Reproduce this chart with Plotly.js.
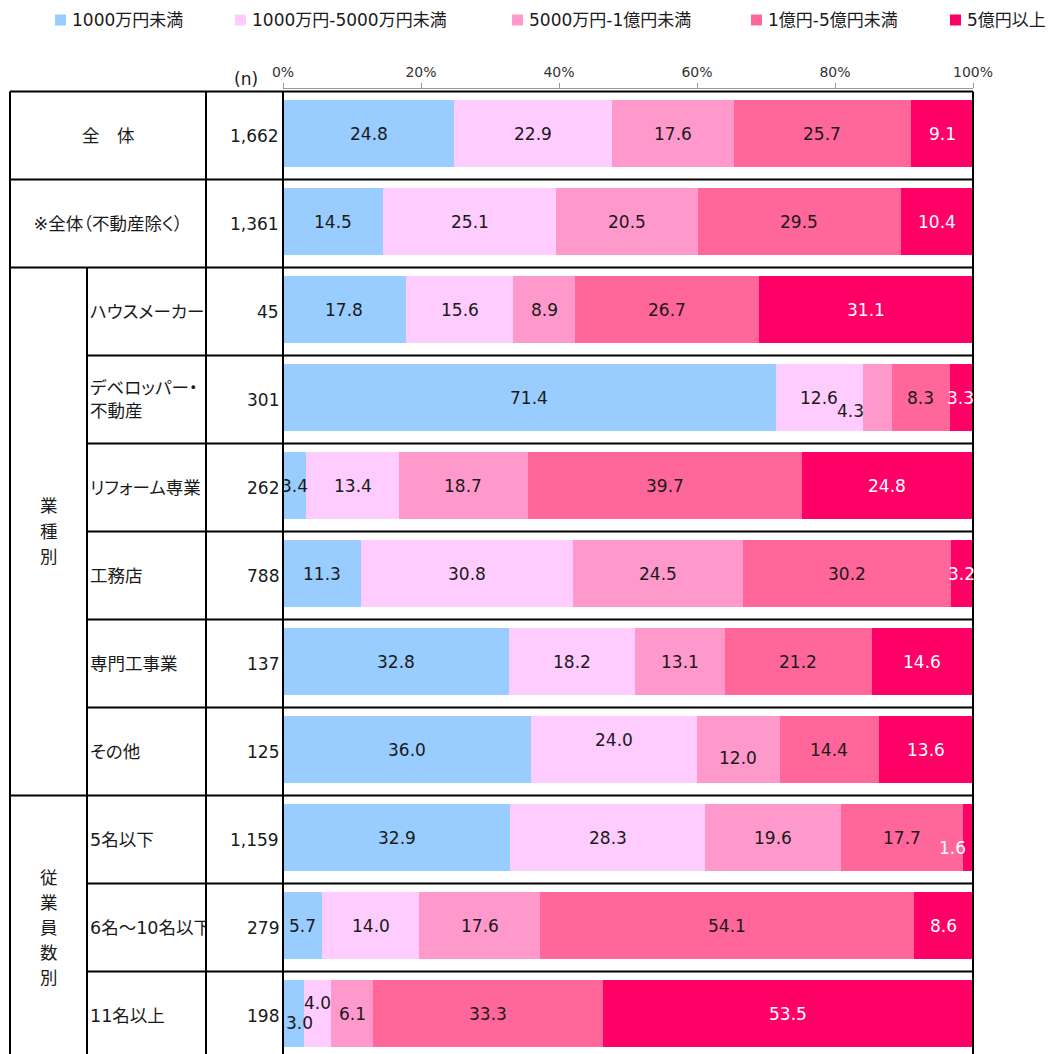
<!DOCTYPE html>
<html>
<head>
<meta charset="utf-8">
<script src="https://cdn.plot.ly/plotly-3.0.1.min.js"></script>
<style>
html,body{margin:0;padding:0;background:#fff}
/* proportional kana/punctuation widths for the Japanese labels */
#chart text{font-feature-settings:"palt" 1}
</style>
</head>
<body>
<div id="chart" style="width:1059px;height:1054px"></div>
<script>
// Revenue band shares (%) by respondent segment
const seriesNames = ['1000万円未満', '1000万円-5000万円未満', '5000万円-1億円未満', '1億円-5億円未満', '5億円以上'];
const seriesColors = ['#99CCFF', '#FFCCFF', '#FF99CC', '#FF6699', '#FF0066'];
const labelColors = ['#1a1a1a', '#1a1a1a', '#1a1a1a', '#1a1a1a', '#ffffff'];

const rowLabels = ['全　体', '※全体（不動産除く）', 'ハウスメーカー', 'デベロッパー・<br>不動産', 'リフォーム専業',
  '工務店', '専門工事業', 'その他', '5名以下', '6名～10名以下', '11名以上'];
const sampleSizes = [1662, 1361, 45, 301, 262, 788, 137, 125, 1159, 279, 198];

const under10m = [24.8, 14.5, 17.8, 71.4, 3.4, 11.3, 32.8, 36.0, 32.9, 5.7, 3.0];
const m10to50 = [22.9, 25.1, 15.6, 12.6, 13.4, 30.8, 18.2, 24.0, 28.3, 14.0, 4.0];
const m50to100 = [17.6, 20.5, 8.9, 4.3, 18.7, 24.5, 13.1, 12.0, 19.6, 17.6, 6.1];
const b1to5 = [25.7, 29.5, 26.7, 8.3, 39.7, 30.2, 21.2, 14.4, 17.7, 54.1, 33.3];
const b5plus = [9.1, 10.4, 31.1, 3.3, 24.8, 3.2, 14.6, 13.6, 1.6, 8.6, 53.5];

const groupNames = ['業種別', '従業員数別'];
const groupFirstRow = [2, 8];
const groupLastRow = [7, 10];
const axisTicks = [0, 20, 40, 60, 80, 100];

const series = [under10m, m10to50, m50to100, b1to5, b5plus];

// ---- page geometry (px) ----
const W = 1059, H = 1054;
const plotL = 283, plotR = 973, plotT = 88;
const rowTop = 91.5, rowH = 88;
const tableL = 10, groupColR = 87, labelColR = 206;
const nRows = rowLabels.length;
const plotH = H - plotT;
const px2x = px => (px - plotL) / (plotR - plotL);
const px2y = py => (H - py) / plotH;
const rowEdge = k => rowTop + k * rowH;

const barWidth = 0.761;
const barShift = -0.0227;

const FONT = 'DejaVu Sans, "Noto Sans CJK JP", sans-serif';
const TXT = '#1a1a1a';

const rowIdx = rowLabels.map((_, i) => i);

const traces = series.map((vals, s) => ({
  type: 'bar',
  orientation: 'h',
  name: seriesNames[s],
  x: vals,
  y: rowIdx,
  width: barWidth,
  offset: -barWidth / 2 + barShift,
  marker: {color: seriesColors[s], line: {width: 0}},
  hoverinfo: 'x+name',
  showlegend: false
}));

const annotations = [];
const shapes = [];

// page-positioned text helper
const pageText = (xpx, ypx, text, xanchor, size, extra) => annotations.push(Object.assign({
  x: px2x(xpx), y: px2y(ypx), xref: 'paper', yref: 'paper',
  text: text, showarrow: false, xanchor: xanchor, yanchor: 'middle',
  font: {family: FONT, size: size, color: TXT}
}, extra || {}));

// value labels centred in each segment, with a few hand-placed nudges (px)
const nudges = {
  '3,2': [-27, 13],
  '7,1': [0, -10],
  '7,2': [0, 8],
  '8,4': [-16, 10],
  '10,0': [6, 9],
  '10,1': [0, -11]
};
rowIdx.forEach(r => {
  let cum = 0;
  series.forEach((vals, s) => {
    const v = vals[r];
    const mid = cum + v / 2;
    cum += v;
    const n = nudges[r + ',' + s] || [0, 0];
    annotations.push({
      x: mid, y: r + barShift, xref: 'x', yref: 'y',
      text: v.toFixed(1), showarrow: false,
      xanchor: 'center', yanchor: 'middle',
      xshift: n[0], yshift: -n[1],
      font: {family: FONT, size: 17, color: labelColors[s]}
    });
  });
});

// table text: row labels and sample sizes
rowIdx.forEach(r => {
  const yc = rowEdge(r) + rowH / 2;
  if (r < 2) {
    pageText((tableL + labelColR) / 2, yc, rowLabels[r], 'center', 17.5);
  } else {
    pageText(groupColR + 1, yc, rowLabels[r], 'left', 17.5,
      {align: 'left', width: labelColR - groupColR - 4});
  }
  pageText(plotL - 2, yc, sampleSizes[r].toLocaleString('en-US'), 'right', 17);
});

// vertical group captions
groupNames.forEach((g, gi) => {
  const chars = Array.from(g);
  const yc = (rowEdge(groupFirstRow[gi]) + rowEdge(groupLastRow[gi] + 1)) / 2;
  chars.forEach((c, ci) => {
    pageText((tableL + groupColR) / 2, yc + (ci - (chars.length - 1) / 2) * 25, c, 'center', 17.5);
  });
});

// "(n)" header
pageText(246, 79, '(n)', 'center', 17);

// legend row
const legendSquareX = [55, 235, 512, 751, 950];
const legendY = 20;
seriesNames.forEach((nm, s) => {
  const x0 = legendSquareX[s];
  shapes.push({
    type: 'rect', xref: 'paper', yref: 'paper',
    x0: px2x(x0), x1: px2x(x0 + 11), y0: px2y(legendY - 5.5), y1: px2y(legendY + 5.5),
    fillcolor: seriesColors[s], line: {width: 0}
  });
  pageText(x0 + 15, legendY, nm, 'left', 17);
});

// table grid
const line = (x0, y0, x1, y1) => shapes.push({
  type: 'line', xref: 'paper', yref: 'paper',
  x0: px2x(x0), x1: px2x(x1), y0: px2y(y0), y1: px2y(y1),
  line: {color: '#000', width: 2}
});
const bottom = rowEdge(nRows);
for (let k = 0; k <= nRows; k++) {
  const full = (k <= 2 || k === groupFirstRow[1]);
  line(full ? tableL : groupColR, rowEdge(k), plotR, rowEdge(k));
}
line(tableL, rowTop, tableL, bottom);
line(groupColR, rowEdge(2), groupColR, bottom);
line(labelColR, rowTop, labelColR, bottom);
line(plotL, rowTop, plotL, bottom);
line(plotR, rowTop, plotR, bottom);

const layout = {
  width: W, height: H,
  margin: {l: plotL, r: W - plotR, t: plotT, b: 0, pad: 0},
  paper_bgcolor: '#fff', plot_bgcolor: '#fff',
  barmode: 'stack',
  showlegend: false,
  xaxis: {
    range: [0, 100], side: 'top', anchor: 'free', position: 1,
    tickvals: axisTicks, ticktext: axisTicks.map(t => t + '%'),
    ticks: 'outside', ticklen: 5, tickcolor: '#999', tickwidth: 1,
    showline: true, linecolor: '#999', linewidth: 1,
    showgrid: false, zeroline: false, fixedrange: true,
    tickfont: {family: FONT, size: 14, color: '#333'}
  },
  yaxis: {
    range: [(H - rowTop) / rowH - 0.5, -0.5],
    domain: [0, (H - rowTop) / plotH],
    visible: false, fixedrange: true
  },
  annotations: annotations,
  shapes: shapes
};

Plotly.newPlot('chart', traces, layout, {displayModeBar: false, staticPlot: true});
</script>
</body>
</html>
